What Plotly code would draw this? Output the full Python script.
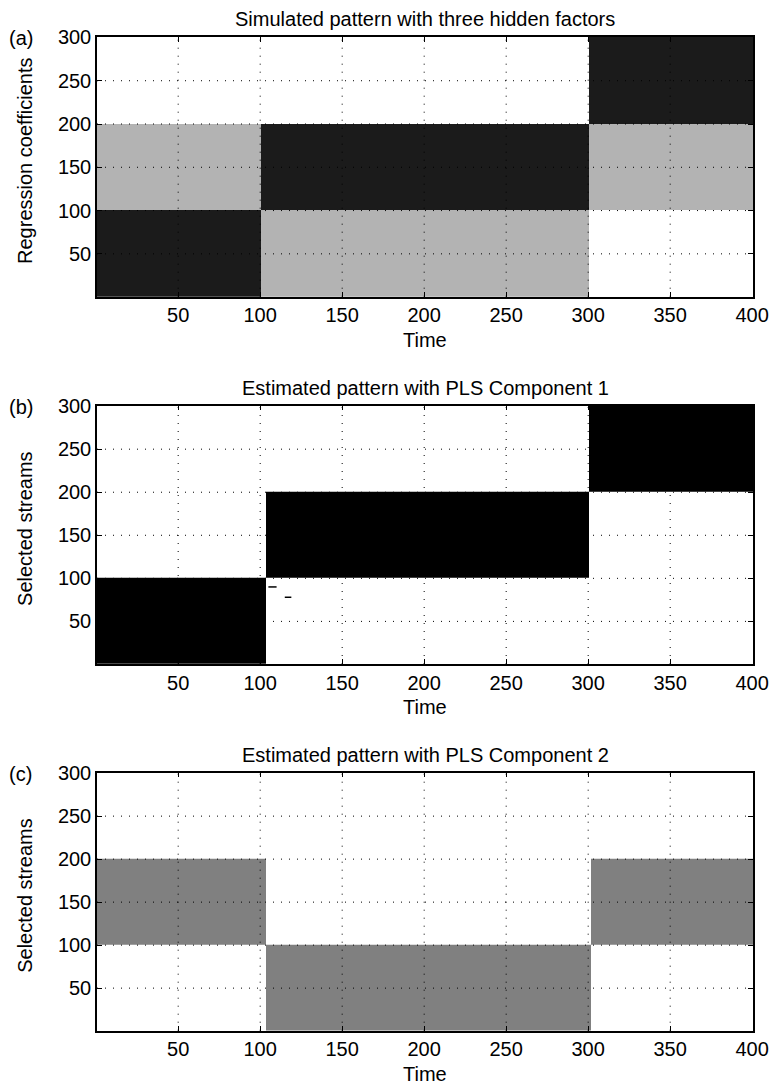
import plotly.graph_objects as go

# ---------------- data ----------------
# Panel (a): simulated pattern (block levels: 0 white, 1 light gray, 2 dark)
a_time_edges = [0.5, 100.5, 300.5, 400.5]
a_coef_edges = [0.5, 100.5, 200.5, 300.5]
a_levels = [
    [2, 1, 0],   # coefficients 1-100
    [1, 2, 1],   # coefficients 101-200
    [0, 0, 2],   # coefficients 201-300
]

# Panel (b): estimated pattern, PLS component 1 (0 white, 1 black)
b_time_edges = [0.5, 103.5, 300.5, 400.5]
b_stream_edges = [0.5, 100.5, 200.5, 300.5]
b_levels = [
    [1, 0, 0],
    [0, 1, 0],
    [0, 0, 1],
]
# stray selections in panel (b): (time start, time end, stream)
b_stray_t0 = [105, 115]
b_stray_t1 = [110, 119]
b_stray_s = [90, 78]

# Panel (c): estimated pattern, PLS component 2 (0 white, 1 gray)
c_time_edges = [0.5, 103.5, 301.5, 400.5]
c_stream_edges = [0.5, 100.5, 200.5, 300.5]
c_levels = [
    [0, 1, 0],
    [1, 0, 1],
    [0, 0, 0],
]

x_ticks = [50, 100, 150, 200, 250, 300, 350, 400]
y_ticks = [50, 100, 150, 200, 250, 300]

titles = ["Simulated pattern with three hidden factors",
          "Estimated pattern with PLS Component 1",
          "Estimated pattern with PLS Component 2"]
ylabels = ["Regression coefficients", "Selected streams", "Selected streams"]
panel_tags = ["(a)", "(b)", "(c)"]
xlabel = "Time"

# ---------------- layout geometry ----------------
W, H = 781, 1085
ML, MR, MT, MB = 97, 18, 37, 54
PW, PH = W - ML - MR, H - MT - MB
FONT = "Liberation Sans, Arial, sans-serif"
FS = 20
FST = 20

def py(p):  # pixel y -> paper
    return 1 - (p - MT) / PH

def px(p):
    return (p - ML) / PW

panels_px = [(37, 296.7), (405.7, 664), (772.7, 1030.7)]
domains = [[py(b), py(t)] for t, b in panels_px]

fig = go.Figure()

fig.add_trace(go.Heatmap(
    x=a_time_edges, y=a_coef_edges, z=a_levels, zmin=0, zmax=2,
    colorscale=[[0, "#ffffff"], [0.5, "#b3b3b3"], [1, "#1b1b1b"]],
    showscale=False, xaxis="x", yaxis="y", hoverinfo="skip"))
fig.add_trace(go.Heatmap(
    x=b_time_edges, y=b_stream_edges, z=b_levels, zmin=0, zmax=1,
    colorscale=[[0, "#ffffff"], [1, "#000000"]],
    showscale=False, xaxis="x2", yaxis="y2", hoverinfo="skip"))
for t0, t1, s in zip(b_stray_t0, b_stray_t1, b_stray_s):
    fig.add_trace(go.Scatter(x=[t0, t1], y=[s, s], mode="lines",
                             line=dict(color="#000000", width=1.5),
                             showlegend=False, xaxis="x2", yaxis="y2",
                             hoverinfo="skip"))
fig.add_trace(go.Heatmap(
    x=c_time_edges, y=c_stream_edges, z=c_levels, zmin=0, zmax=1,
    colorscale=[[0, "#ffffff"], [1, "#808080"]],
    showscale=False, xaxis="x3", yaxis="y3", hoverinfo="skip"))

axis_common = dict(showline=True, linecolor="black", linewidth=1.5,
                   mirror="ticks", ticks="inside", ticklen=5,
                   tickcolor="black", tickwidth=1, showgrid=False,
                   zeroline=False, layer="above traces",
                   tickfont=dict(family=FONT, size=FST, color="black"))

layout = dict(width=W, height=H, margin=dict(l=ML, r=MR, t=MT, b=MB),
              paper_bgcolor="white", plot_bgcolor="white",
              showlegend=False, font=dict(family=FONT, size=FS, color="black"))

annotations = []
shapes = []
for i in range(3):
    sx = "" if i == 0 else str(i + 1)
    layout["xaxis" + sx] = dict(axis_common, domain=[0, 1], range=[0.5, 400.5],
                                tickvals=x_ticks, anchor="y" + sx)
    layout["yaxis" + sx] = dict(axis_common, domain=domains[i], range=[0.5, 300.5],
                                tickvals=y_ticks, anchor="x" + sx)
    top, bot = panels_px[i]
    # grid lines (dotted, drawn above the image like MATLAB)
    for xv in x_ticks[:-1]:
        shapes.append(dict(type="line", xref="x" + sx, yref="y" + sx + " domain",
                           x0=xv, x1=xv, y0=0, y1=1, layer="above",
                           line=dict(color="black", width=1, dash="1px,7px")))
    for yv in y_ticks[:-1]:
        shapes.append(dict(type="line", xref="x" + sx + " domain", yref="y" + sx,
                           x0=0, x1=1, y0=yv, y1=yv, layer="above",
                           line=dict(color="black", width=1, dash="1px,7px")))
    annotations.append(dict(text=titles[i], xref="paper", yref="paper",
                            x=0.5, y=py(top - 18), xanchor="center", yanchor="middle",
                            showarrow=False, font=dict(family=FONT, size=FS)))
    annotations.append(dict(text=xlabel, xref="paper", yref="paper",
                            x=0.5, y=py(bot + 43), xanchor="center", yanchor="middle",
                            showarrow=False, font=dict(family=FONT, size=FS)))
    annotations.append(dict(text=ylabels[i], xref="paper", yref="paper",
                            x=px(24), y=py((top + bot) / 2 - 6), xanchor="center",
                            yanchor="middle", textangle=-90,
                            showarrow=False, font=dict(family=FONT, size=FST)))
    annotations.append(dict(text=panel_tags[i], xref="paper", yref="paper",
                            x=px(6), y=py(top + 1), xanchor="left", yanchor="middle",
                            showarrow=False, font=dict(family=FONT, size=FST)))

layout["annotations"] = annotations
layout["shapes"] = shapes
fig.update_layout(**layout)
fig.write_html("out.html")
